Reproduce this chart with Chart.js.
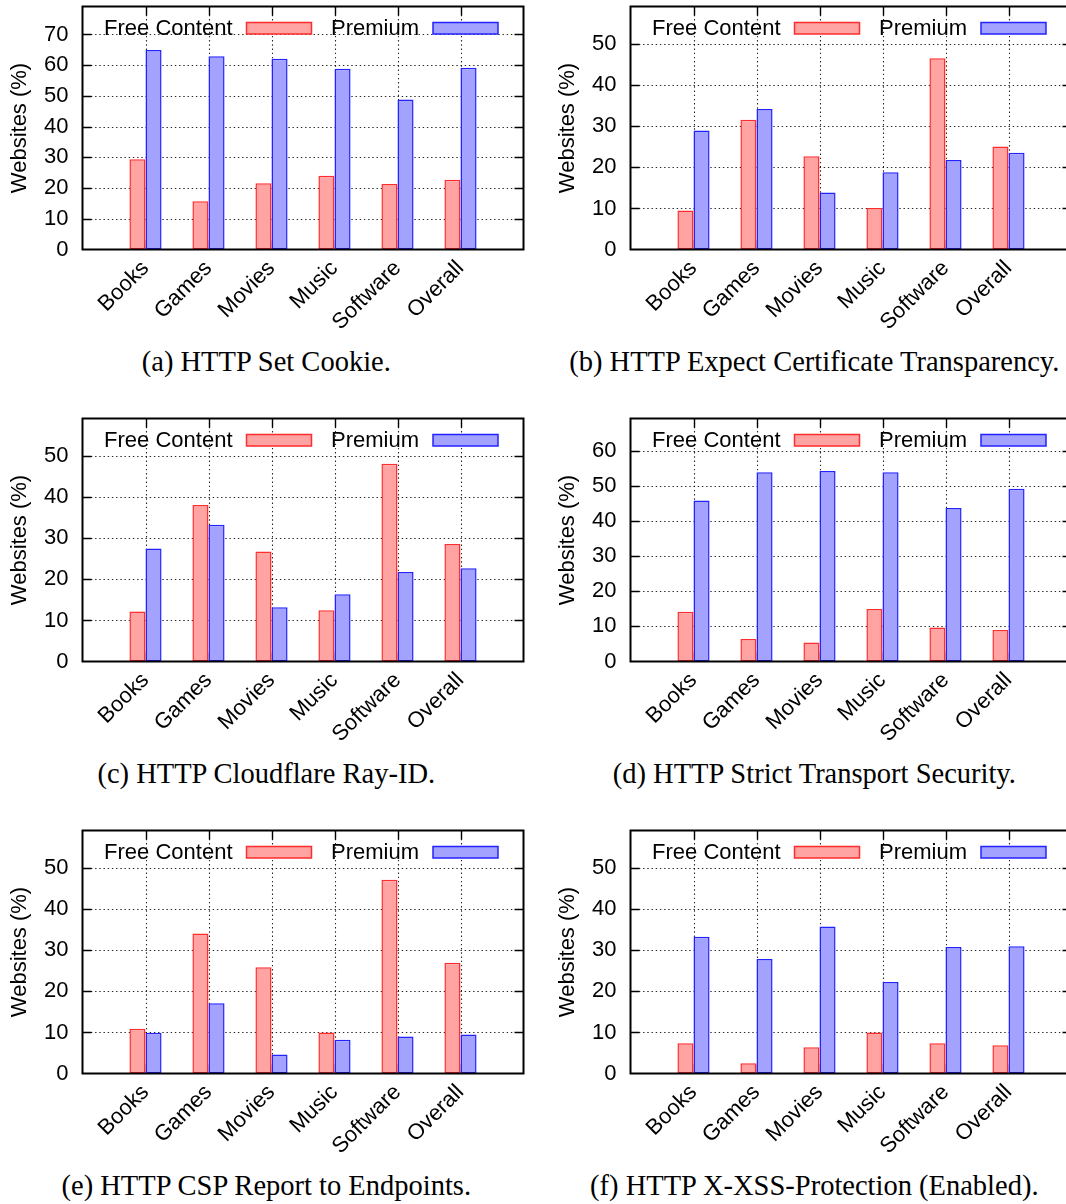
<!DOCTYPE html>
<html><head><meta charset="utf-8">
<script src="https://cdn.jsdelivr.net/npm/chart.js@4.4.1/dist/chart.umd.min.js"></script>
<style>
html,body{margin:0;padding:0;background:#fff;}
#page{position:relative;width:1066px;height:1204px;overflow:hidden;background:#fff;}
.panel{position:absolute;width:530px;height:330px;}
.cap{position:absolute;font-family:"Liberation Serif","Times New Roman",serif;font-size:28.5px;line-height:28.5px;white-space:nowrap;transform:translateX(-50%);color:#000;}
</style></head><body><div id="page"></div>
<script>
// ---- data ----
const categories = ['Books', 'Games', 'Movies', 'Music', 'Software', 'Overall'];
const seriesNames = ['Free Content', 'Premium'];
const yTitle = 'Websites (%)';

const setCookieFree      = [29.4, 15.7, 21.6, 24.0, 21.3, 22.7];
const setCookiePremium   = [64.9, 62.9, 62.1, 58.8, 48.8, 59.2];
const expectCtFree       = [9.5, 31.6, 22.7, 10.1, 46.6, 25.1];
const expectCtPremium    = [29.0, 34.2, 13.9, 18.8, 21.8, 23.6];
const cfRayFree          = [12.2, 38.1, 26.8, 12.5, 48.2, 28.6];
const cfRayPremium       = [27.5, 33.3, 13.2, 16.4, 21.8, 22.7];
const hstsFree           = [14.2, 6.4, 5.4, 15.0, 9.7, 9.0];
const hstsPremium        = [45.9, 54.0, 54.3, 54.0, 43.8, 49.3];
const cspReportFree      = [10.9, 34.1, 25.9, 10.0, 47.2, 27.0];
const cspReportPremium   = [9.9, 17.1, 4.6, 8.2, 9.0, 9.5];
const xssFree            = [7.4, 2.5, 6.4, 10.0, 7.4, 6.9];
const xssPremium         = [33.3, 27.9, 35.8, 22.3, 30.8, 31.0];

const yMaxes   = [79.1, 59.2, 59.2, 69.3, 59.2, 59.2];
const captions = [
  '(a) HTTP Set Cookie.',
  '(b) HTTP Expect Certificate Transparency.',
  '(c) HTTP Cloudflare Ray-ID.',
  '(d) HTTP Strict Transport Security.',
  '(e) HTTP CSP Report to Endpoints.',
  '(f) HTTP X-XSS-Protection (Enabled).'
];
const panelSeries = [
  [setCookieFree, setCookiePremium],
  [expectCtFree, expectCtPremium],
  [cfRayFree, cfRayPremium],
  [hstsFree, hstsPremium],
  [cspReportFree, cspReportPremium],
  [xssFree, xssPremium]
];

// ---- styling / layout ----
const SANS = '"Liberation Sans", Arial, Helvetica, sans-serif';
const FONT_SIZE = 22;
const fills   = ['rgb(255,163,163)', 'rgb(163,163,255)'];
const strokes = ['rgb(255,45,45)', 'rgb(35,35,255)'];
const colX = [0, 548];
const rowY = [0, 412, 824.3];
const CW = 530, CH = 330;
const AREA_LEFT = 82.5, AREA_TOP = 6.5, AREA_BOTTOM = 249.5;

const gnuplotLook = {
  id: 'gnuplotLook',
  beforeDatasetsDraw(chart) {
    const {ctx, chartArea: a, scales: {x, y}} = chart;
    ctx.save();
    ctx.beginPath(); ctx.rect(a.left, a.top, a.right - a.left, a.bottom - a.top); ctx.clip();
    ctx.strokeStyle = 'rgba(0,0,0,0.85)';
    ctx.lineWidth = 1.1;
    ctx.setLineDash([1.4, 2.8]);
    y.ticks.forEach(t => {
      const py = Math.round(y.getPixelForValue(t.value)) + 0.5;
      if (py < a.top + 2 || py > a.bottom - 2) return;
      ctx.beginPath(); ctx.moveTo(a.left, py); ctx.lineTo(a.right, py); ctx.stroke();
    });
    x.ticks.forEach(t => {
      const px = Math.round(x.getPixelForValue(t.value)) + 0.5;
      if (px < a.left + 2 || px > a.right - 2) return;
      ctx.beginPath(); ctx.moveTo(px, a.top); ctx.lineTo(px, a.bottom); ctx.stroke();
    });
    ctx.setLineDash([]);
    ctx.strokeStyle = '#000';
    ctx.lineWidth = 1.4;
    const L = 9;
    y.ticks.forEach(t => {
      const py = Math.round(y.getPixelForValue(t.value)) + 0.5;
      ctx.beginPath();
      ctx.moveTo(a.left, py); ctx.lineTo(a.left + L, py);
      ctx.moveTo(a.right - L, py); ctx.lineTo(a.right, py);
      ctx.stroke();
    });
    x.ticks.forEach(t => {
      const px = Math.round(x.getPixelForValue(t.value)) + 0.5;
      ctx.beginPath();
      ctx.moveTo(px, a.top); ctx.lineTo(px, a.top + L);
      ctx.moveTo(px, a.bottom - L); ctx.lineTo(px, a.bottom);
      ctx.stroke();
    });
    ctx.restore();
  },
  afterDatasetsDraw(chart) {
    const {ctx, chartArea: a} = chart;
    ctx.save();
    ctx.strokeStyle = '#000';
    ctx.lineWidth = 2;
    ctx.strokeRect(a.left, a.top, a.right - a.left, a.bottom - a.top);
    ctx.font = FONT_SIZE + 'px ' + SANS;
    ctx.textAlign = 'right';
    ctx.textBaseline = 'alphabetic';
    chart.data.datasets.forEach((ds, k) => {
      const sx = a.left + 164 + 186.5 * k;
      const sy = a.top + 16;
      ctx.fillStyle = ds.backgroundColor;
      ctx.fillRect(sx, sy, 65, 11.5);
      ctx.strokeStyle = ds.borderColor;
      ctx.lineWidth = 1.5;
      ctx.strokeRect(sx, sy, 65, 11.5);
      ctx.fillStyle = '#000';
      ctx.fillText(ds.label, sx - 14, a.top + 28.5);
    });
    ctx.restore();
  }
};

const page = document.getElementById('page');
panelSeries.forEach((series, p) => {
  const col = p % 2, row = Math.floor(p / 2);
  const wrap = document.createElement('div');
  wrap.className = 'panel';
  wrap.style.left = colX[col] + 'px';
  wrap.style.top = rowY[row] + 'px';
  const cv = document.createElement('canvas');
  cv.width = CW; cv.height = CH;
  cv.style.width = CW + 'px'; cv.style.height = CH + 'px';
  wrap.appendChild(cv);
  page.appendChild(wrap);

  const cap = document.createElement('div');
  cap.className = 'cap';
  cap.textContent = captions[p];
  cap.style.left = (colX[col] + 266.3) + 'px';
  cap.style.top = (rowY[row] + 347.8) + 'px';
  page.appendChild(cap);

  new Chart(cv, {
    type: 'bar',
    data: {
      datasets: series.map((vals, k) => ({
        label: seriesNames[k],
        data: categories.map((c, i) => ({x: i, y: vals[i]})),
        backgroundColor: fills[k],
        borderColor: strokes[k],
        borderWidth: 1.5,
        borderSkipped: false,
        categoryPercentage: 0.51,
        barPercentage: 1.0
      }))
    },
    options: {
      responsive: false,
      maintainAspectRatio: false,
      animation: false,
      devicePixelRatio: 1,
      layout: {padding: {left: 0, top: AREA_TOP, right: CW - 523.5, bottom: 0}},
      plugins: {legend: {display: false}, tooltip: {enabled: false}, title: {display: false}},
      scales: {
        x: {
          type: 'linear',
          offset: false,
          min: -1, max: 6,
          grid: {display: false, drawTicks: false},
          border: {display: false},
          afterBuildTicks(scale) { scale.ticks = categories.map((c, i) => ({value: i})); },
          afterFit(scale) { scale.height = CH - AREA_BOTTOM; scale.paddingLeft = 0; scale.paddingRight = 0; },
          ticks: {
            autoSkip: false, minRotation: 45, maxRotation: 45, padding: 6,
            color: '#000', font: {family: SANS, size: FONT_SIZE},
            callback: (v) => categories[v] ?? ''
          }
        },
        y: {
          min: 0, max: yMaxes[p],
          grid: {display: false, drawTicks: false},
          border: {display: false},
          afterFit(scale) { scale.width = AREA_LEFT; scale.paddingTop = 0; scale.paddingBottom = 0; },
          ticks: {
            stepSize: 10, includeBounds: false, padding: 14,
            color: '#000', font: {family: SANS, size: FONT_SIZE}
          },
          title: {
            display: true, text: yTitle, color: '#000',
            font: {family: SANS, size: FONT_SIZE}, padding: {top: 7.2, bottom: 0}
          }
        }
      }
    },
    plugins: [gnuplotLook]
  });
});
</script></body></html>
